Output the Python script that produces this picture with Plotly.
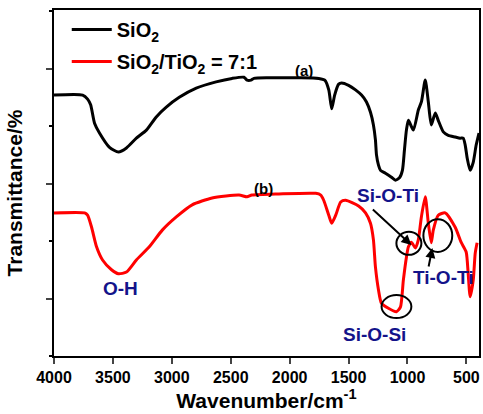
import plotly.graph_objects as go

# ---- data (wavenumber in cm^-1, transmittance in arbitrary offset units) ----
wn_a = [4000, 3757, 3715, 3689, 3656, 3614, 3529, 3453, 3385, 3301, 3216, 3132, 3047,
        2937, 2793, 2624, 2489, 2388, 2362, 2328, 2303, 2176, 1922, 1753, 1702, 1668,
        1643, 1618, 1584, 1559, 1500, 1441, 1390, 1348, 1314, 1289, 1272, 1263, 1246,
        1229, 1187, 1136, 1102, 1068, 1043, 1026, 1009, 992, 950, 908, 882, 849, 823,
        798, 764, 739, 696, 654, 595, 553, 527, 510, 493, 468, 442, 417, 393]
t_a = [4.54, 4.54, 4.47, 4.37, 4.05, 3.88, 3.63, 3.55, 3.62, 3.79, 3.93, 4.16, 4.33,
       4.50, 4.66, 4.77, 4.83, 4.85, 4.80, 4.80, 4.83, 4.84, 4.84, 4.83, 4.80, 4.63,
       4.30, 4.54, 4.73, 4.75, 4.71, 4.63, 4.54, 4.42, 4.24, 4.02, 3.76, 3.50, 3.32,
       3.23, 3.18, 3.11, 3.06, 3.10, 3.23, 3.58, 3.93, 4.10, 3.93, 4.28, 4.42, 4.80, 4.42,
       4.02, 4.23, 4.10, 3.90, 3.84, 3.81, 3.79, 3.79, 3.67, 3.44, 3.23, 3.37, 3.67, 3.88]

wn_b = [4000, 3740, 3715, 3681, 3639, 3588, 3512, 3453, 3385, 3301, 3191, 3081, 2962,
        2827, 2658, 2430, 2362, 2320, 2092, 1779, 1736, 1711, 1668, 1643, 1609, 1567,
        1525, 1415, 1356, 1314, 1289, 1272, 1246, 1221, 1162, 1094, 1060, 1035, 1009,
        992, 967, 933, 908, 882, 849, 823, 798, 781, 739, 680, 595, 545, 502, 485, 468,
        442, 425, 409]
t_b = [2.49, 2.49, 2.45, 2.24, 1.90, 1.67, 1.50, 1.43, 1.46, 1.67, 1.90, 2.19, 2.42,
       2.63, 2.75, 2.80, 2.77, 2.80, 2.82, 2.83, 2.80, 2.71, 2.45, 2.31, 2.45, 2.68,
       2.71, 2.61, 2.49, 2.31, 2.02, 1.55, 1.15, 0.92, 0.83, 0.77, 0.85, 1.32, 1.72,
       1.90, 1.98, 1.88, 2.02, 2.42, 2.77, 2.31, 1.97, 2.19, 2.45, 2.49, 2.24, 1.98, 1.81,
       1.44, 1.03, 1.32, 1.79, 1.97]

x_ticks = [4000, 3500, 3000, 2500, 2000, 1500, 1000, 500]

# band labels: (text, wavenumber, transmittance)
band_labels = [("O-H", 3436, 1.17), ("Si-O-Si", 1280, 0.38),
               ("Si-O-Ti", 1166, 2.80), ("Ti-O-Ti", 696, 1.37)]
curve_labels = [("(a)", 1880, 4.97), ("(b)", 2218, 2.92)]
# highlighted regions: (wn_left, wn_right, t_low, t_high)
circles = [(1220, 967, 0.66, 1.06), (1094, 882, 1.76, 2.16), (865, 620, 1.81, 2.38)]
# arrows: (tip wn, tip t, tail dx px, tail dy px)
arrows = [(967, 1.93, -40, -37), (789, 1.88, -4, 20)]

FONT = "Liberation Sans, Arial, sans-serif"
NAVY = "#13138a"

fig = go.Figure()
fig.add_trace(go.Scatter(x=wn_a, y=t_a, mode="lines", name="SiO<sub>2</sub>",
                         line=dict(color="black", width=3, shape="spline", smoothing=0.6),
                         legendgroup="a"))
fig.add_trace(go.Scatter(x=wn_b, y=t_b, mode="lines", name="SiO<sub>2</sub>/TiO<sub>2</sub> = 7:1",
                         line=dict(color="#ff0000", width=3, shape="spline", smoothing=0.6),
                         legendgroup="b"))

for txt, x, y in band_labels:
    fig.add_annotation(x=x, y=y, text=txt, showarrow=False,
                       font=dict(family=FONT, size=19, color=NAVY, weight="bold"))
for txt, x, y in curve_labels:
    fig.add_annotation(x=x, y=y, text=txt, showarrow=False,
                       font=dict(family=FONT, size=15, color="black", weight="bold"))
for x0, x1, y0, y1 in circles:
    fig.add_shape(type="circle", x0=x0, x1=x1, y0=y0, y1=y1,
                  line=dict(color="black", width=2))
for x, y, dx, dy in arrows:
    fig.add_annotation(x=x, y=y, ax=dx, ay=dy, text="", showarrow=True,
                       arrowhead=2, arrowsize=1, arrowwidth=2, arrowcolor="black")

fig.add_annotation(xref="paper", yref="paper", x=-0.125, y=0.471, text="Transmittance/%",
                   textangle=-90, showarrow=False,
                   font=dict(family=FONT, size=21, color="black", weight="bold"))

fig.update_layout(
    width=483, height=414,
    margin=dict(l=54, r=2, t=10, b=58),
    plot_bgcolor="white", paper_bgcolor="white",
    showlegend=True,
    legend=dict(x=0.03, y=1.0, xanchor="left", yanchor="top",
                bgcolor="rgba(0,0,0,0)", borderwidth=0,
                font=dict(family=FONT, size=20, color="black", weight="bold"),
                traceorder="grouped", tracegroupgap=3, itemwidth=40),
    xaxis=dict(range=[4000, 393], tickvals=x_ticks, ticks="outside", ticklen=6,
               tickwidth=2, linecolor="black", linewidth=2, mirror=True,
               showgrid=False, zeroline=False,
               tickfont=dict(family=FONT, size=16, color="black", weight="bold"),
               title=dict(text="Wavenumber/cm<sup>-1</sup>", standoff=8,
                          font=dict(family=FONT, size=21, color="black", weight="bold"))),
    yaxis=dict(range=[0, 6.02], tick0=1, dtick=2, ticks="outside", ticklen=6,
               tickwidth=2, linecolor="black", linewidth=2, mirror=True,
               showgrid=False, zeroline=False, showticklabels=False,
               minor=dict(tick0=0, dtick=1, ticks="outside", ticklen=3, tickwidth=2,
                          tickcolor="black")),
)

fig.write_html("out.html")
